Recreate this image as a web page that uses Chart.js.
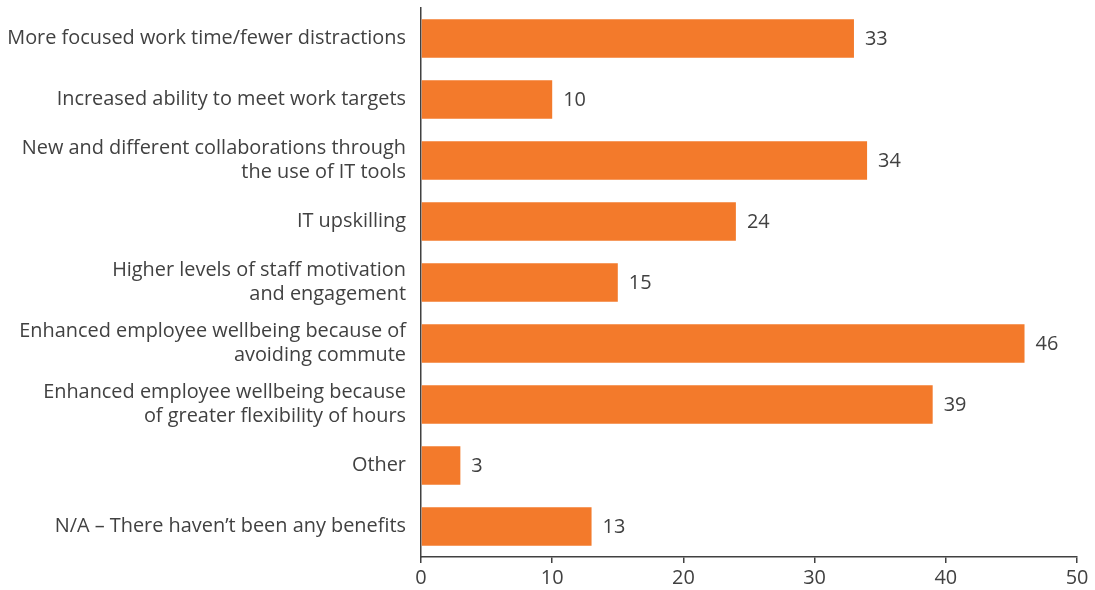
<!DOCTYPE html>
<html>
<head>
<meta charset="utf-8">
<script src="https://cdn.jsdelivr.net/npm/chart.js@4/dist/chart.umd.min.js"></script>
<style>
html,body{margin:0;padding:0;background:#fff;}
#wrap{width:1095px;height:590px;position:relative;}
</style>
</head>
<body>
<div id="wrap"><canvas id="c" width="1095" height="590"></canvas></div>
<script>
const categories = [
  "More focused work time/fewer distractions",
  "Increased ability to meet work targets",
  ["New and different collaborations through", "the use of IT tools"],
  "IT upskilling",
  ["Higher levels of staff motivation", "and engagement"],
  ["Enhanced employee wellbeing because of", "avoiding commute"],
  ["Enhanced employee wellbeing because", "of greater flexibility of hours"],
  "Other",
  "N/A – There haven’t been any benefits"
];
const values = [33, 10, 34, 24, 15, 46, 39, 3, 13];
const xTicks = [0, 10, 20, 30, 40, 50];

const TEXT = '#414141';
const FONT = 'Open Sans';
const FSIZE = 19.9;

const valueLabels = {
  id: 'valueLabels',
  afterDatasetsDraw(chart) {
    const ctx = chart.ctx;
    const meta = chart.getDatasetMeta(0);
    ctx.save();
    ctx.font = FSIZE + 'px "' + FONT + '"';
    ctx.fillStyle = TEXT;
    ctx.textBaseline = 'middle';
    ctx.textAlign = 'left';
    meta.data.forEach((bar, i) => {
      ctx.fillText(String(values[i]), bar.x + 11, bar.y + 1);
    });
    ctx.restore();
  }
};

new Chart(document.getElementById('c'), {
  type: 'bar',
  data: {
    labels: categories,
    datasets: [{
      data: values,
      backgroundColor: '#F37A2B',
      borderWidth: 0,
      barPercentage: 0.63,
      categoryPercentage: 1
    }]
  },
  options: {
    indexAxis: 'y',
    responsive: false,
    animation: false,
    devicePixelRatio: 1,
    layout: { padding: { top: 8, right: 18, bottom: 0, left: 0 } },
    plugins: { legend: { display: false }, tooltip: { enabled: false } },
    scales: {
      x: {
        min: 0, max: 50,
        afterBuildTicks(scale) { scale.ticks = xTicks.map(v => ({ value: v })); },
        afterFit(scale) { scale.height = 33; scale.paddingLeft = 0; scale.paddingRight = 0; },
        grid: { drawOnChartArea: false, drawTicks: true, tickLength: 6, color: TEXT, lineWidth: 1.5 },
        border: { display: true, color: TEXT, width: 1.5 },
        ticks: { color: TEXT, font: { family: FONT, size: FSIZE }, padding: 3 }
      },
      y: {
        afterFit(scale) { scale.width = 421; scale.paddingTop = 0; scale.paddingBottom = 0; },
        grid: { display: false, drawTicks: false },
        border: { display: true, color: TEXT, width: 1.5 },
        ticks: { color: TEXT, font: { family: FONT, size: FSIZE, lineHeight: 1.21 }, padding: 15, autoSkip: false }
      }
    }
  },
  plugins: [valueLabels]
});
</script>
</body>
</html>
